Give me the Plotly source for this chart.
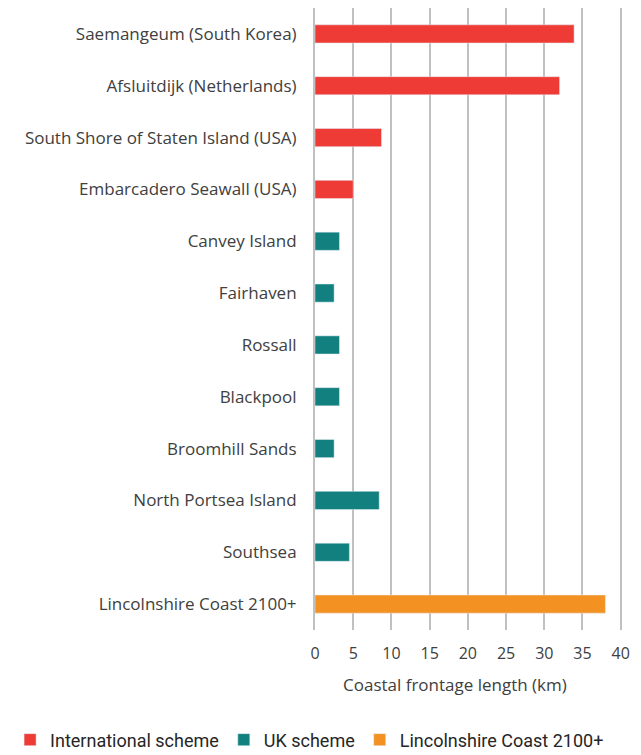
import plotly.graph_objects as go

categories = [
    "Saemangeum (South Korea)",
    "Afsluitdijk (Netherlands)",
    "South Shore of Staten Island (USA)",
    "Embarcadero Seawall (USA)",
    "Canvey Island",
    "Fairhaven",
    "Rossall",
    "Blackpool",
    "Broomhill Sands",
    "North Portsea Island",
    "Southsea",
    "Lincolnshire Coast 2100+",
]

intl_names = categories[0:4]
intl_values = [33.9, 32.0, 8.7, 5.0]

uk_names = categories[4:11]
uk_values = [3.2, 2.5, 3.2, 3.2, 2.5, 8.4, 4.5]

linc_names = categories[11:12]
linc_values = [38.0]

x_ticks = [0, 5, 10, 15, 20, 25, 30, 35, 40]
x_title = "Coastal frontage length (km)"

fig = go.Figure()
fig.add_trace(go.Bar(y=intl_names, x=intl_values, orientation="h",
                     name="International scheme", marker_color="#EE3B35"))
fig.add_trace(go.Bar(y=uk_names, x=uk_values, orientation="h",
                     name="UK scheme", marker_color="#11807E"))
fig.add_trace(go.Bar(y=linc_names, x=linc_values, orientation="h",
                     name="Lincolnshire Coast 2100+", marker_color="#F39223"))

fig.update_layout(
    width=641, height=755,
    margin=dict(l=315, r=18, t=8, b=125, autoexpand=False),
    barmode="overlay",
    bargap=0.65,
    paper_bgcolor="white",
    plot_bgcolor="white",
    font=dict(family="Open Sans, sans-serif", size=15, color="#404040"),
    xaxis=dict(
        range=[0, 40.3],
        tickvals=x_ticks,
        showgrid=True, gridcolor="#C0C0C0", gridwidth=2,
        zeroline=False,
        showline=False,
        tickfont=dict(size=16, color="#404040"),
        ticks="", ticklabelstandoff=12,
        fixedrange=True,
    ),
    yaxis=dict(
        categoryorder="array", categoryarray=categories,
        autorange="reversed",
        showgrid=False,
        showline=True, linecolor="#C0C0C0", linewidth=2,
        ticks="", ticklabelstandoff=13,
        tickfont=dict(size=17, color="#404040"),
    ),
    legend=dict(
        orientation="h",
        x=-0.99, xanchor="left",
        y=-0.147, yanchor="top",
        font=dict(family="Roboto, sans-serif", size=18, color="#262626"),
        traceorder="normal",
        itemwidth=30,
        tracegroupgap=0,
    ),
    annotations=[dict(
        text=x_title, xref="paper", yref="paper",
        x=0.455, y=-0.088, xanchor="center", yanchor="middle",
        showarrow=False, font=dict(size=17, color="#404040"),
    )],
)

fig.write_html("out.html")
